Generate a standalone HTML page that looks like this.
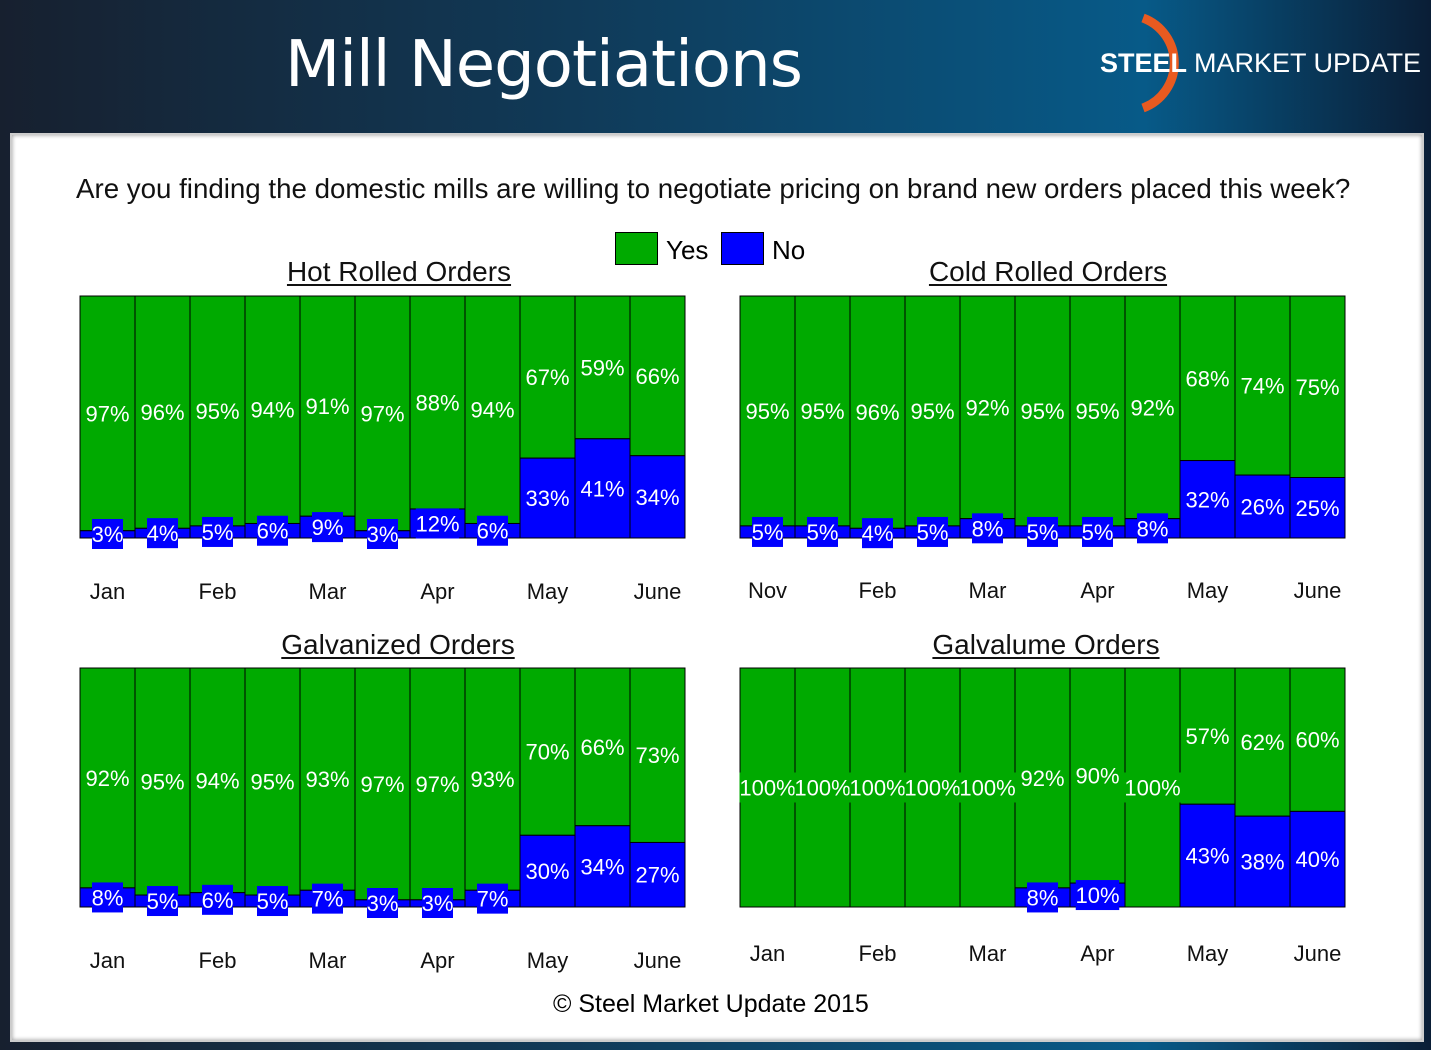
<!DOCTYPE html>
<html><head><meta charset="utf-8"><style>
body{margin:0;width:1431px;height:1050px;overflow:hidden;font-family:"Liberation Sans","DejaVu Sans",sans-serif;background:linear-gradient(90deg,#17202f 0%,#103a58 40%,#075a88 80%,#0a1e36 100%);position:relative}
.t{position:absolute;white-space:nowrap}
#panel{position:absolute;left:10px;top:133px;width:1410px;height:905px;background:#fff;border:2px solid #ccc;box-shadow:inset 0 0 4px #999}
.ct{position:absolute;font-size:28px;text-decoration:underline;transform:translateX(-50%);color:#111;text-underline-offset:3px}
</style></head><body>
<div class="t" style="left:285px;top:28px;font-size:64px;color:#fff;font-family:'DejaVu Sans',sans-serif;letter-spacing:-1px">Mill Negotiations</div>
<svg style="position:absolute;left:1095px;top:10px" width="336" height="105">
<path d="M48,8 A48,48 0 0 1 48,98" stroke="#e85a20" stroke-width="9" fill="none"/>
<text x="5" y="62" font-size="27" fill="#fff" font-weight="bold" font-family="Liberation Sans">STEEL <tspan font-weight="normal">MARKET UPDATE</tspan></text></svg>
<div id="panel"></div>
<div class="t" style="left:76px;top:173px;font-size:27.7px;color:#111">Are you finding the domestic mills are willing to negotiate pricing on brand new orders placed this week?</div>
<div style="position:absolute;left:615px;top:232px;width:41px;height:31px;background:#00aa00;border:1px solid #000"></div>
<div class="t" style="left:666px;top:235px;font-size:26px">Yes</div>
<div style="position:absolute;left:721px;top:232px;width:41px;height:31px;background:#0000ff;border:1px solid #000"></div>
<div class="t" style="left:772px;top:235px;font-size:26px">No</div>
<div class="t" style="left:553px;top:990px;font-size:25px">© Steel Market Update 2015</div>
<svg id="s" width="1431" height="1050" style="position:absolute;left:0;top:0"></svg>
<script>
const hrYes=[97,96,95,94,91,97,88,94,67,59,66];
const hrNo=[3,4,5,6,9,3,12,6,33,41,34];
const crYes=[95,95,96,95,92,95,95,92,68,74,75];
const crNo=[5,5,4,5,8,5,5,8,32,26,25];
const gYes=[92,95,94,95,93,97,97,93,70,66,73];
const gNo=[8,5,6,5,7,3,3,7,30,34,27];
const glYes=[100,100,100,100,100,92,90,100,57,62,60];
const glNo=[0,0,0,0,0,8,10,0,43,38,40];
const monthsA=["Jan","Feb","Mar","Apr","May","June"];
const monthsB=["Nov","Feb","Mar","Apr","May","June"];
const charts=[
{name:"hot-rolled",title:"Hot Rolled Orders",x:80,top:296,bot:538,yes:hrYes,no:hrNo,m:monthsA,my:591,ty:273,tc:399},
{name:"cold-rolled",title:"Cold Rolled Orders",x:740,top:296,bot:538,yes:crYes,no:crNo,m:monthsB,my:590,ty:273,tc:1048},
{name:"galvanized",title:"Galvanized Orders",x:80,top:668,bot:907,yes:gYes,no:gNo,m:monthsA,my:960,ty:646,tc:398},
{name:"galvalume",title:"Galvalume Orders",x:740,top:668,bot:907,yes:glYes,no:glNo,m:monthsA,my:953,ty:646,tc:1046}];
const s=document.getElementById('s');const NS="http://www.w3.org/2000/svg";
function el(t,a,p){const e=document.createElementNS(NS,t);for(const k in a)e.setAttribute(k,a[k]);(p||s).appendChild(e);return e;}
const W=605,N=11,bw=W/N;
charts.forEach(c=>{
 const d=document.createElement('div');d.className='ct';d.style.left=c.tc+'px';d.style.top=(c.ty-17)+'px';d.textContent=c.title;
 
 
 document.body.appendChild(d);
 const H=c.bot-c.top;const y=v=>c.bot-v/100*H;
 const g=el('g',{});
 
 
 const labels=[];
 c.yes.forEach((v,i)=>{
  const n=c.no[i];const x0=c.x+i*bw;
  const r1=el('rect',{x:x0,y:c.top,width:bw,height:y(n)-c.top,fill:'#00aa00',stroke:'#000','stroke-width':1},g);
  
  
  if(n>0){const r2=el('rect',{x:x0,y:y(n),width:bw,height:c.bot-y(n),fill:'#0000ff',stroke:'#000','stroke-width':1},g);
  
  }
  labels.push([x0+bw/2,(c.top+y(n))/2,v+'%','#00aa00',v]);
  if(n>0)labels.push([x0+bw/2,Math.min((y(n)+c.bot)/2,c.bot-4),n+'%','#0000ff',n]);
 });
 labels.forEach(l=>{
  const tw=l[2].length*12.5+6;
  if(l[3]=='#0000ff'||l[4]==100){const b=el('rect',{x:l[0]-tw/2,y:l[1]-15,width:tw,height:30,fill:l[3]},g);
  
  }
  const t=el('text',{x:l[0],y:l[1]+8,'text-anchor':'middle','font-size':22,fill:'#fff','font-family':'Liberation Sans'},g);t.textContent=l[2];
  
  
 });
 c.m.forEach((m,j)=>{const t=el('text',{x:c.x+(2*j+0.5)*bw,y:c.my+8,'text-anchor':'middle','font-size':22,fill:'#111','font-family':'Liberation Sans'},g);t.textContent=m;
  
  });
});
</script>
</body></html>
